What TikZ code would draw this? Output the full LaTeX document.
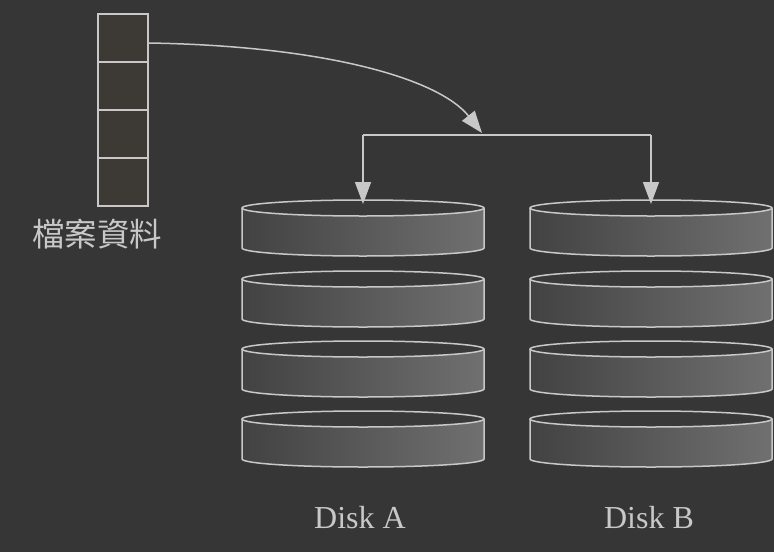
\documentclass[tikz,border=0pt]{standalone}
\usepackage{fontspec}
\setmainfont{Liberation Serif}
\newfontfamily\cjk{Noto Sans CJK TC}
\usetikzlibrary{arrows.meta}
\definecolor{bg}{HTML}{363636}
\definecolor{ln}{HTML}{C8C8C8}
\definecolor{cellfill}{HTML}{3D3934}
\definecolor{diskL}{HTML}{424242}
\definecolor{diskR}{HTML}{707070}
\definecolor{diskTop}{HTML}{393939}
\definecolor{txt}{HTML}{C8C8C8}
\newcommand\mydisk[2]{%
  \shade[left color=diskL,right color=diskR] (#1-121,#2) -- (#1-121,#2+40)
     arc[start angle=180,end angle=360,x radius=121pt,y radius=8pt] -- (#1+121,#2) -- cycle;
  \draw[ln,line width=1.5pt] (#1-121,#2) -- (#1-121,#2+40)
     arc[start angle=180,end angle=360,x radius=121pt,y radius=8pt] -- (#1+121,#2);
  \filldraw[fill=diskTop,draw=ln,line width=1.5pt] (#1,#2) ellipse[x radius=121pt,y radius=8pt];
}
\begin{document}
\begin{tikzpicture}[x=1pt,y=-1pt,
  cell/.style={draw=ln,fill=cellfill,line width=1.5pt,minimum width=50pt,minimum height=48pt,inner sep=0pt},
  conn/.style={ln,line width=1.5pt,-{Triangle[width=16pt,length=22pt,fill=ln]}},
  lbl/.style={text=txt,font=\fontsize{32}{34}\selectfont}]
\fill[bg] (0,0) rectangle (774,552);
\useasboundingbox (0,0) rectangle (774,552);
% file blocks
\node[cell] (c1) at (123,38) {};
\node[cell] (c2) at (123,86) {};
\node[cell] (c3) at (123,134) {};
\node[cell] (c4) at (123,182) {};
\node[lbl,font=\cjk\fontsize{32.5}{34}\selectfont] (file) at (97,234) {檔案資料};
% disks
\foreach \y in {208,279,349,419}{\mydisk{363}{\y}\mydisk{651}{\y}}
\coordinate (tA) at (363,204);
\coordinate (tB) at (651,204);
\coordinate (j) at (482,133);
\coordinate (bj) at (482,135);
% connectors
\draw[conn] ([yshift=-5pt]c1.east) .. controls (330,46) and (440,80) .. (j);
\draw[ln,line width=1.5pt] (bj) -- (363,135);
\draw[ln,line width=1.5pt] (bj) -- (651,135);
\draw[conn] (363,135) -- (tA);
\draw[conn] (651,135) -- (tB);
% labels
\node[lbl] (dA) at (360,518) {Disk A};
\node[lbl] (dB) at (649,518) {Disk B};
\end{tikzpicture}
\end{document}
